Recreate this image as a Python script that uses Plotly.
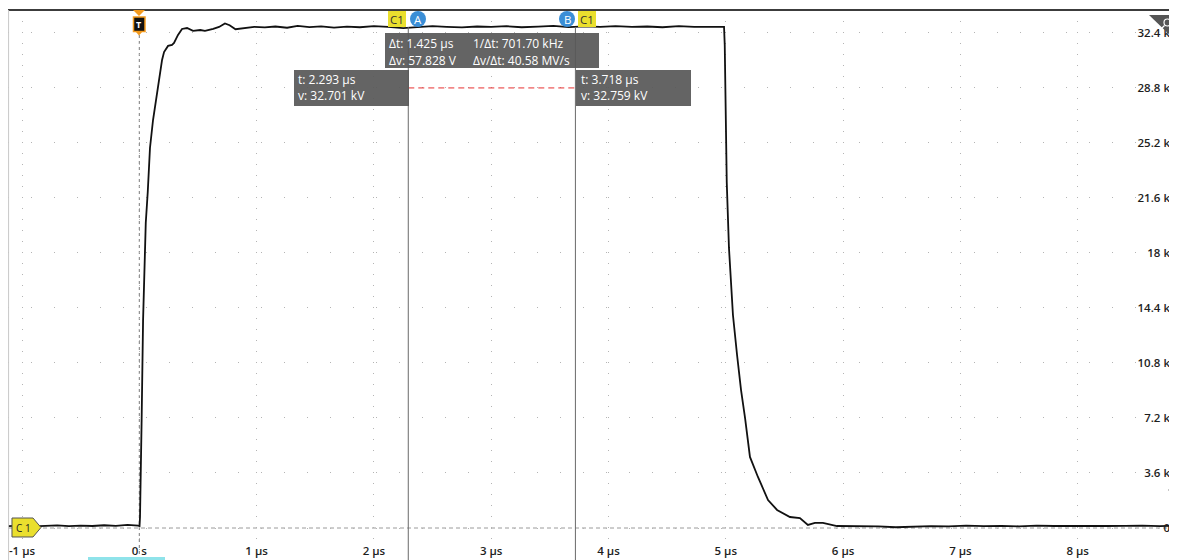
import plotly.graph_objects as go

# ---------------- data ----------------
time_us = [
    -1.12, -1.0, -0.9, -0.8, -0.7, -0.6, -0.5, -0.4, -0.3, -0.2, -0.1, -0.01,
    0.002, 0.006, 0.012, 0.020, 0.032, 0.055, 0.072, 0.091, 0.117, 0.159,
    0.194, 0.211, 0.245, 0.279, 0.296, 0.330, 0.364, 0.407, 0.458,
    0.52, 0.56, 0.63, 0.68, 0.73, 0.77, 0.82, 0.89, 0.98, 1.07, 1.16, 1.26,
    1.35, 1.45, 1.55, 1.66, 1.77, 1.88, 2.00, 2.12, 2.25, 2.37, 2.50, 2.62,
    2.75, 2.88, 3.00, 3.13, 3.26, 3.40, 3.53, 3.66, 3.80, 3.93, 4.06, 4.20,
    4.33, 4.46, 4.60, 4.73, 4.86, 4.985,
    4.991, 4.999, 5.008, 5.027, 5.061, 5.096, 5.130, 5.164, 5.206, 5.274,
    5.360, 5.437, 5.547, 5.632, 5.700, 5.760, 5.828, 5.948, 6.144,
    6.30, 6.45, 6.60, 6.75, 6.90, 7.05, 7.20, 7.35, 7.50, 7.65, 7.80, 7.95,
    8.10, 8.25, 8.40, 8.55, 8.70, 8.82,
]
voltage_kv = [
    0.12, 0.15, 0.10, 0.14, 0.17, 0.12, 0.15, 0.13, 0.18, 0.14, 0.20, 0.16,
    0.13, 0.72, 2.88, 7.13, 13.55, 19.96, 21.99, 24.87, 26.70, 28.99,
    30.63, 31.15, 31.55, 31.61, 31.74, 32.27, 32.66, 32.72, 32.53,
    32.59, 32.53, 32.66, 32.79, 33.02, 32.90, 32.64, 32.72, 32.80, 32.76, 32.82, 32.74,
    32.86, 32.78, 32.83, 32.75, 32.81, 32.77, 32.84, 32.80, 32.72, 32.78, 32.85, 32.80,
    32.76, 32.82, 32.79, 32.84, 32.77, 32.81, 32.86, 32.78, 32.83, 32.80, 32.85, 32.79,
    32.82, 32.77, 32.84, 32.80, 32.82, 32.80,
    31.61, 27.03, 22.65, 18.33, 13.94, 11.32, 9.03, 7.20, 4.65, 3.34,
    1.83, 1.18, 0.72, 0.65, 0.20, 0.33, 0.33, 0.13, 0.13,
    0.10, 0.05, 0.08, 0.12, 0.10, 0.15, 0.12, 0.14, 0.11, 0.15, 0.13, 0.12,
    0.15, 0.13, 0.14, 0.16, 0.12, 0.14,
]

x_tick_vals = [-1, 0, 1, 2, 3, 4, 5, 6, 7, 8]
x_tick_text = ["-1 µs", "0 s", "1 µs", "2 µs", "3 µs", "4 µs", "5 µs", "6 µs", "7 µs", "8 µs"]
y_tick_vals = [0, 3.6, 7.2, 10.8, 14.4, 18, 21.6, 25.2, 28.8, 32.4]
y_tick_text = ["0", "3.6 k", "7.2 k", "10.8 k", "14.4 k", "18 k", "21.6 k", "25.2 k", "28.8 k", "32.4 k"]

cursor_a_t = 2.293
cursor_b_t = 3.718
readout_a = ["t: 2.293 µs", "v: 32.701 kV"]
readout_b = ["t: 3.718 µs", "v: 32.759 kV"]
delta_col1 = ["Δt: 1.425 µs", "Δv: 57.828 V"]
delta_col2 = ["1/Δt: 701.70 kHz", "Δv/Δt: 40.58 MV/s"]
ref_level_kv = 28.8

# ---------------- layout geometry ----------------
# the page body has an 8px margin, so the figure starts at page (8, 8)
OFF = 8
W_FIG, H_FIG = 1177 - OFF, 560 - OFF
# plot area in page pixels
L, R, T, B = 8, 1173, 10, 560
PW, PH = R - L, B - T


def PX(x):
    return (x - L) / PW


def PY(y):
    return (B - y) / PH


FONT = "Open Sans, DejaVu Sans, sans-serif"

fig = go.Figure()
fig.add_trace(go.Scatter(
    x=time_us, y=voltage_kv, mode="lines",
    line=dict(color="#111111", width=1.8),
    hoverinfo="skip", showlegend=False,
))

shapes = []
annotations = []

# top border and left border
shapes.append(dict(type="line", xref="paper", yref="paper", x0=0, x1=1, y0=1, y1=1,
                   line=dict(color="#3c3c3c", width=2)))
shapes.append(dict(type="line", xref="paper", yref="paper", x0=0.0005, x1=0.0005, y0=0, y1=1,
                   line=dict(color="#c8c8c8", width=1)))

# ground reference dashed line
shapes.append(dict(type="line", xref="paper", yref="y", x0=0, x1=1, y0=0, y1=0,
                   line=dict(color="#9a9a9a", width=1, dash="4px,3px"), layer="below"))

# trigger dashed line
shapes.append(dict(type="line", xref="x", yref="paper", x0=0, x1=0, y0=0, y1=PY(35),
                   line=dict(color="#7a7a7a", width=1, dash="3px,3px"), layer="below"))

# cursor lines
for t in (cursor_a_t, cursor_b_t):
    shapes.append(dict(type="line", xref="x", yref="paper", x0=t, x1=t, y0=0, y1=PY(27),
                       line=dict(color="#6a6a6a", width=1)))

# red reference dashed line between cursors
shapes.append(dict(type="line", xref="x", yref="y", x0=cursor_a_t, x1=cursor_b_t,
                   y0=ref_level_kv, y1=ref_level_kv,
                   line=dict(color="#e83030", width=1, dash="6px,4px")))

BOX = "rgba(88,88,88,0.93)"


def box(x0, x1, y0, y1, color):
    shapes.append(dict(type="rect", xref="paper", yref="paper",
                       x0=PX(x0), x1=PX(x1), y0=PY(y1), y1=PY(y0),
                       fillcolor=color, line=dict(width=0)))


def text(x, y, s, color="white", size=12, anchor="left", bold=False):
    if bold:
        s = "<b>" + s + "</b>"
    annotations.append(dict(xref="paper", yref="paper", x=PX(x), y=PY(y), text=s,
                            showarrow=False, xanchor=anchor, yanchor="middle",
                            font=dict(family=FONT, size=size, color=color)))


# readout boxes
box(294, 409, 70, 106, BOX)
text(296, 79, readout_a[0])
text(296, 95, readout_a[1])
box(576, 691, 70, 106, BOX)
text(579, 79, readout_b[0])
text(579, 95, readout_b[1])
box(385, 599, 33, 68, BOX)
text(387, 44, delta_col1[0])
text(387, 60, delta_col1[1])
text(471, 44, delta_col2[0])
text(471, 60, delta_col2[1])

# cursor tags
YEL = "#eadf2e"
BLUE = "#3a8ed6"
box(388, 406, 11, 27, YEL)
text(397, 19.5, "C1", color="#333333", size=11.5, anchor="center")
box(578, 596, 11, 27, YEL)
text(587, 19.5, "C1", color="#333333", size=11.5, anchor="center")
for cx, lab in ((418, "A"), (567, "B")):
    shapes.append(dict(type="circle", xref="paper", yref="paper",
                       x0=PX(cx - 8), x1=PX(cx + 8), y0=PY(27), y1=PY(11),
                       fillcolor=BLUE, line=dict(width=0)))
    text(cx, 19.5, lab, color="white", size=11.5, anchor="center")


def path(pts, fill, line_color=None, lw=0):
    d = "M " + " L ".join(f"{PX(x):.5f},{PY(y):.5f}" for x, y in pts) + " Z"
    shapes.append(dict(type="path", xref="paper", yref="paper", path=d,
                       fillcolor=fill, line=dict(color=line_color or fill, width=lw)))


# trigger marker
ORANGE = "#f39a1e"
path([(133, 10), (145, 10), (139, 16)], ORANGE)
shapes.append(dict(type="rect", xref="paper", yref="paper",
                   x0=PX(133.5), x1=PX(145), y0=PY(31.5), y1=PY(17),
                   fillcolor="#111111", line=dict(color=ORANGE, width=1.5)))
path([(135.5, 31.5), (142.5, 31.5), (139, 35.5)], ORANGE)
text(139.3, 24.5, "T", color="white", size=9, anchor="center", bold=True)

# C1 ground marker
path([(12, 518), (33, 518), (41, 527.5), (33, 537), (12, 537)], YEL, "#555555", 1)
text(23, 527.5, "C 1", color="#222222", size=10, anchor="center")

# top-right icon triangle with a small white glyph
path([(1149, 15), (1177, 15), (1177, 42)], "#555555")
shapes.append(dict(type="circle", xref="paper", yref="paper",
                   x0=PX(1164), x1=PX(1171), y0=PY(26), y1=PY(19),
                   line=dict(color="white", width=1.2)))
shapes.append(dict(type="line", xref="paper", yref="paper",
                   x0=PX(1164.5), x1=PX(1160), y0=PY(25.5), y1=PY(30),
                   line=dict(color="white", width=1.2)))

# small level arrow on right
path([(1168, 490), (1174, 486.5), (1174, 493.5)], "#222222")

# cyan tab at bottom
box(88, 165, 557, 562, "#8fe3ea")

TICKFONT = dict(family=FONT, size=11.5, color="#1e1e1e", weight=600)

fig.update_layout(
    width=W_FIG, height=H_FIG,
    margin=dict(l=L - OFF, r=(1177 - R), t=T - OFF, b=0),
    paper_bgcolor="white", plot_bgcolor="white",
    showlegend=False,
    shapes=shapes, annotations=annotations,
    font=dict(family=FONT),
    xaxis=dict(
        range=[-1.1194, 8.8125], showline=False, zeroline=False,
        tickvals=x_tick_vals, ticktext=x_tick_text,
        ticklabelposition="inside", ticks="",
        tickfont=TICKFONT,
        showgrid=True, gridcolor="#b4b4b4", gridwidth=1, griddash="1px,10px",
        fixedrange=True,
    ),
    yaxis=dict(
        range=[-2.094, 33.90], side="right", showline=False, zeroline=False,
        tickvals=y_tick_vals, ticktext=y_tick_text,
        ticklabelposition="inside", ticks="",
        tickfont=TICKFONT,
        showgrid=True, gridcolor="#b4b4b4", gridwidth=1, griddash="1px,22px",
        fixedrange=True,
    ),
)

fig.write_html("out.html")
